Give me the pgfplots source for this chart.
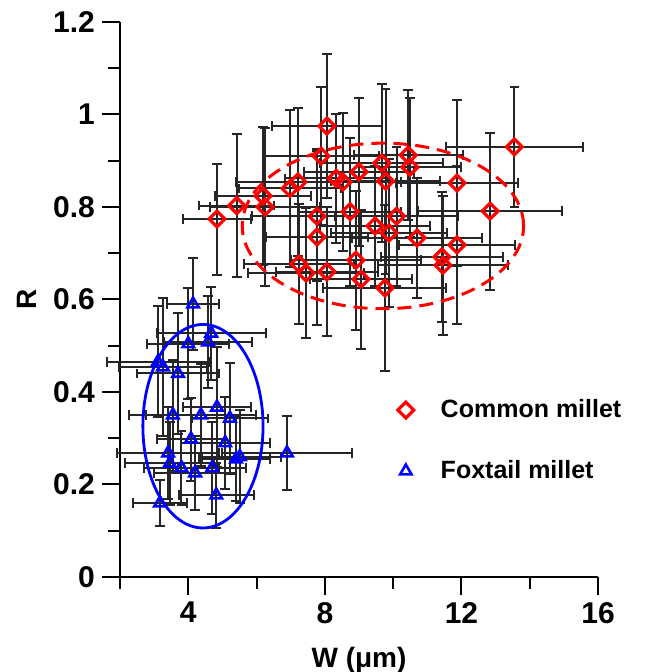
\documentclass[border=0pt]{standalone}
\usepackage{fontspec}
\setmainfont{Liberation Sans}
\usepackage{pgfplots}
\pgfplotsset{compat=1.18}
\definecolor{cmRed}{RGB}{255,0,0}
\definecolor{fmBlue}{RGB}{0,0,255}

\pgfplotstableread{
x     y      ex   ey
4.84  0.774  1.0  0.12
5.42  0.803  1.1  0.155
6.19  0.824  1.4  0.15
6.25  0.800  1.6  0.17
6.98  0.840  1.5  0.17
7.21  0.854  1.8  0.16
8.06  0.975  1.6  0.155
7.89  0.910  1.7  0.15
8.33  0.862  1.5  0.14
8.53  0.854  1.7  0.15
9.00  0.876  1.6  0.16
9.67  0.895  1.8  0.17
9.78  0.856  1.6  0.20
7.77  0.780  1.9  0.14
8.74  0.790  1.5  0.16
7.77  0.735  1.5  0.19
9.47  0.759  1.6  0.13
8.91  0.685  1.9  0.15
9.06  0.644  1.5  0.15
7.24  0.677  1.6  0.13
7.45  0.657  1.7  0.14
8.06  0.660  1.5  0.14
9.76  0.625  1.8  0.18
13.55 0.930  2.0  0.13
11.87 0.852  1.8  0.18
12.84 0.791  2.1  0.17
10.44 0.912  1.6  0.14
10.49 0.886  1.5  0.15
10.10 0.780  1.8  0.15
9.88  0.744  1.7  0.16
10.70 0.733  1.9  0.13
11.87 0.718  1.7  0.17
11.43 0.692  1.8  0.14
11.46 0.674  1.9  0.15
}\common

\pgfplotstableread{
x     y      ex   ey
4.14  0.590  0.75 0.10
4.67  0.527  1.6  0.10
4.00  0.504  1.2  0.12
4.58  0.508  1.3  0.10
3.11  0.465  1.5  0.12
3.26  0.454  1.3  0.15
3.70  0.440  1.2  0.13
4.84  0.367  1.0  0.13
3.55  0.350  1.3  0.12
4.37  0.350  1.6  0.11
5.22  0.343  1.1  0.12
4.08  0.298  1.0  0.09
5.08  0.290  1.3  0.10
3.41  0.268  1.5  0.10
3.46  0.246  1.3  0.09
5.51  0.260  1.2  0.10
6.89  0.268  1.9  0.08
3.80  0.236  1.1  0.08
4.20  0.225  1.2  0.08
4.70  0.236  1.0  0.10
4.82  0.177  1.1  0.07
3.17  0.160  0.8  0.05
5.40  0.255  1.0  0.09
}\foxtail

\begin{document}
\begin{tikzpicture}
% page frame in the reference's proportions (axis box at 0,0)
\useasboundingbox (-60pt,-47.5pt) rectangle (271.5pt,288.5pt);
\begin{axis}[
  scale only axis,
  width=239pt, height=277.5pt,
  xmin=2, xmax=16, ymin=0, ymax=1.2,
  axis lines*=left,
  axis line style={line width=1pt},
  tick align=outside,
  tick style={line width=1pt, black},
  major tick length=9pt, minor tick length=6pt,
  xtick={4,8,12,16}, minor xtick={2,6,10,14},
  ytick={0,0.2,0.4,0.6,0.8,1,1.2}, minor ytick={0.1,0.3,0.5,0.7,0.9,1.1},
  /pgf/number format/assume math mode=true,
  tick label style={font=\bfseries\fontsize{15}{18}\selectfont},
  xlabel={W (μm)}, ylabel={R},
  label style={font=\bfseries\fontsize{14}{17}\selectfont},
  xlabel style={yshift=-5pt},
  ylabel style={yshift=1.5pt},
  legend style={draw=none, fill=none, at={(0.568,0.335)}, anchor=north west,
    font=\bfseries\fontsize{12.5}{15}\selectfont, row sep=16pt,
    /tikz/every odd column/.append style={column sep=11.5pt}},
  legend cell align=left,
  clip=false,
]
\addplot+[only marks, mark=square, color=cmRed,
  mark options={rotate=45, line width=1.6pt, draw=cmRed, fill=white}, mark size=2.8pt,
  error bars/.cd, x dir=both, x explicit, y dir=both, y explicit,
  error bar style={black!85, line width=1pt},
  error mark options={black!85, rotate=90, mark size=2.4pt, line width=1pt}]
  table[x=x, y=y, x error=ex, y error=ey]{\common};
\addlegendentry{Common millet}
\addplot+[only marks, mark=triangle, color=fmBlue,
  mark options={line width=1.3pt, draw=fmBlue, fill=white}, mark size=3.3pt,
  error bars/.cd, x dir=both, x explicit, y dir=both, y explicit,
  error bar style={black!85, line width=1pt},
  error mark options={black!85, rotate=90, mark size=2.4pt, line width=1pt}]
  table[x=x, y=y, x error=ex, y error=ey]{\foxtail};
\addlegendentry{Foxtail millet}
\draw[cmRed, line width=1.5pt, dash pattern=on 7pt off 4pt]
  (axis cs:9.70,0.759) ellipse [x radius=4.12, y radius=0.179];
\draw[fmBlue, line width=1.4pt]
  (axis cs:4.43,0.326) ellipse [x radius=1.76, y radius=0.22];
\end{axis}
\end{tikzpicture}
\end{document}
